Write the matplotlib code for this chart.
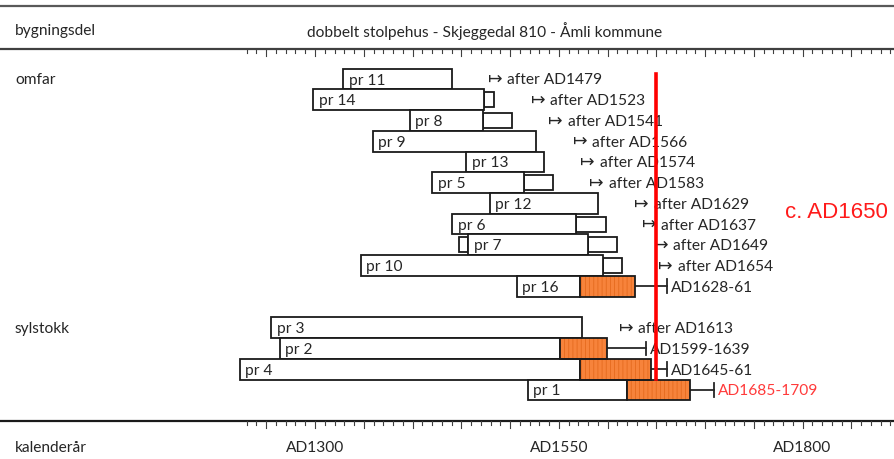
import matplotlib
matplotlib.use("Agg")
import matplotlib.pyplot as plt

# ---------------- data ----------------
names = ['pr 11', 'pr 14', 'pr 8', 'pr 9', 'pr 13', 'pr 5', 'pr 12', 'pr 6', 'pr 7', 'pr 10', 'pr 16',
         'pr 3', 'pr 2', 'pr 4', 'pr 1']
rows = [0, 1, 2, 3, 4, 5, 6, 7, 8, 9, 10, 12, 13, 14, 15]
start = [1329, 1298, 1397, 1359, 1455, 1420, 1479, 1441, 1457, 1347, 1507, 1255, 1264, 1223, 1518]
heart_end = [1440, 1473, 1472, 1527, 1535, 1514, 1590, 1568, 1580, 1595, 1572, 1574, 1551, 1572, 1620]
sap_end = [None, 1484, 1502, None, None, 1544, None, 1598, 1610, 1615, None, None, None, None, None]
pre_start = [None, None, None, None, None, None, None, None, 1448, None, None, None, None, None, None]
felling_lo = [None, None, None, None, None, None, None, None, None, None, 1628, None, 1599, 1645, 1685]
felling_hi = [None, None, None, None, None, None, None, None, None, None, 1661, None, 1639, 1661, 1709]
after_year = [1479, 1523, 1541, 1566, 1574, 1583, 1629, 1637, 1649, 1654, None, 1613, None, None, None]
range_labels = [None, None, None, None, None, None, None, None, None, None, 'AD1628-61', None,
                'AD1599-1639', 'AD1645-61', 'AD1685-1709']
range_colors = ['#262626'] * 14 + ['#FF3B3B']
groups = ['omfar', 'sylstokk']
group_rows = [0, 12]
dating_year = 1650
dating_label = 'c. AD1650'
title = 'dobbelt stolpehus - Skjeggedal 810 - Åmli kommune'
tick_years = [1300, 1550, 1800]
tick_labels = ['AD1300', 'AD1550', 'AD1800']

# ---------------- layout ----------------
W, H = 894, 459
PX_PER_YEAR = 0.975
X_1300 = 315
ROW0 = 79
PITCH = 20.73

def xyear(px):
    return 1300 + (px - X_1300) / PX_PER_YEAR

def yrow(py):
    return (py - ROW0) / PITCH

FONT = ['Lato', 'DejaVu Sans']
FS = 11.2
TXT = '#262626'
DY = 1.5 / PITCH  # small downward nudge for text

fig = plt.figure(figsize=(W / 100, H / 100), dpi=100)
ax = fig.add_axes([0, 0, 1, 1])
ax.set_xlim(xyear(0), xyear(W))
ax.set_ylim(yrow(H), yrow(0))
ax.axis('off')

# header / footer lines
for py, col in [(6, '#595959'), (49, '#404040'), (421, '#1a1a1a')]:
    ax.plot([xyear(0), xyear(W)], [yrow(py)] * 2, color=col, lw=1.6, solid_capstyle='butt')

# ticks
for py in (49, 421):
    for yr in range(1230, 1900, 10):
        length = 7 if yr % 50 == 0 else 4
        ax.plot([yr, yr], [yrow(py), yrow(py + length)], color='#404040', lw=0.8)

ax.text(xyear(15), yrow(30) + DY, 'bygningsdel', family=FONT, fontsize=FS, color=TXT,
        ha='left', va='center')
ax.text(xyear(485), yrow(30) + DY, title, family=FONT, fontsize=FS, color=TXT, ha='center', va='center')
ax.text(xyear(15), yrow(446) + DY, 'kalenderår', family=FONT, fontsize=FS, color=TXT, ha='left', va='center')
for yr, lab in zip(tick_years, tick_labels):
    ax.text(yr, yrow(446) + DY, lab, family=FONT, fontsize=FS, color=TXT, ha='center', va='center')
for g, r in zip(groups, group_rows):
    ax.text(xyear(15), r + DY, g, family=FONT, fontsize=FS, color=TXT, ha='left', va='center')

ORANGE = '#F7833B'
HATCH = '#E56A1E'
plt.rcParams['hatch.linewidth'] = 0.6

for i, nm in enumerate(names):
    r = rows[i]
    # heartwood bar
    ax.barh(r, heart_end[i] - start[i], left=start[i], height=1.0, facecolor='white',
            edgecolor='#1a1a1a', lw=1.3, zorder=3)
    ax.annotate(nm, (start[i], r + DY), xytext=(4, 0), textcoords='offset points', family=FONT,
                fontsize=FS, color=TXT, ha='left', va='center', zorder=5)
    if pre_start[i] is not None:
        ax.barh(r, start[i] - pre_start[i], left=pre_start[i], height=0.72, facecolor='white',
                edgecolor='#1a1a1a', lw=1.3, zorder=2)
    if sap_end[i] is not None:
        ax.barh(r, sap_end[i] - heart_end[i], left=heart_end[i], height=0.72, facecolor='white',
                edgecolor='#1a1a1a', lw=1.3, zorder=2)
    if felling_lo[i] is not None:
        ax.barh(r, felling_lo[i] - heart_end[i], left=heart_end[i], height=1.0, facecolor=ORANGE,
                edgecolor=HATCH, hatch='||||', lw=0, zorder=3)
        ax.barh(r, felling_lo[i] - heart_end[i], left=heart_end[i], height=1.0, facecolor='none',
                edgecolor='#1a1a1a', lw=1.3, zorder=4)
        ax.plot([felling_lo[i], felling_hi[i]], [r, r], color='#262626', lw=1.3, zorder=2)
        ax.plot([felling_hi[i]] * 2, [r - 0.33, r + 0.33], color='#262626', lw=1.3, zorder=2)
        ax.annotate(range_labels[i], (felling_hi[i], r + DY), xytext=(3, 0), textcoords='offset points',
                    family=FONT, fontsize=FS, color=range_colors[i], ha='left', va='center', zorder=5)
    if after_year[i] is not None:
        ax.annotate('\u21a6', (after_year[i], r), xytext=(-1.2, 0),
                    textcoords='offset points', family='DejaVu Sans', fontsize=12.5, color=TXT,
                    ha='left', va='center', zorder=5)
        ax.annotate('after AD%d' % after_year[i], (after_year[i], r + DY), xytext=(12.8, 0),
                    textcoords='offset points', family=FONT, fontsize=FS, color=TXT,
                    ha='left', va='center', zorder=5)

ax.plot([dating_year, dating_year], [yrow(74), yrow(379)], color='#FF0000', lw=2.6, zorder=6)
ax.text(xyear(785), yrow(212), dating_label, family=['Liberation Sans', 'DejaVu Sans'], fontsize=16,
        color='#FF1A1A', ha='left', va='center')

fig.savefig('out.png', dpi=100)
